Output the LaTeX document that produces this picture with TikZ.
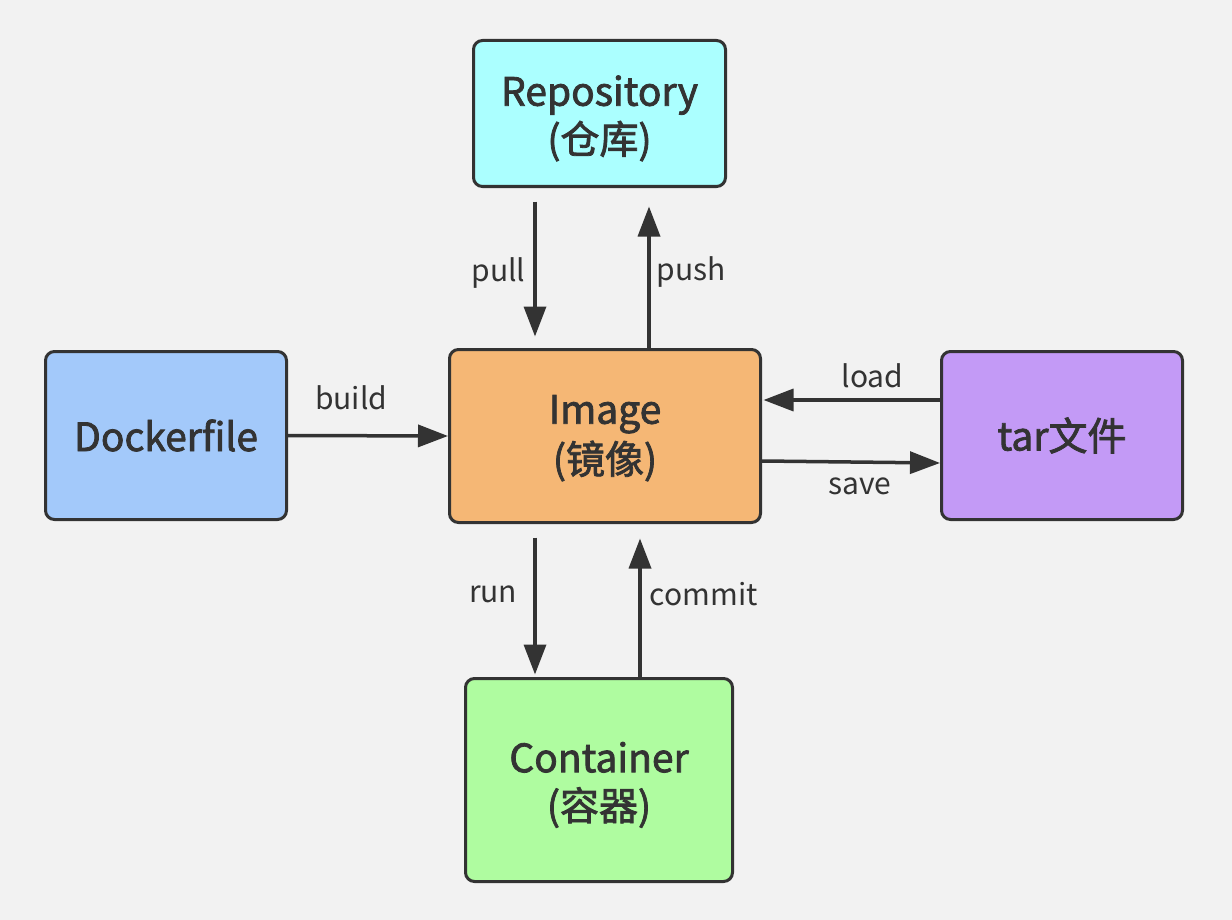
\documentclass[tikz,border=0pt]{standalone}
\usepackage{fontspec}
\setmainfont{Noto Sans CJK SC}
\newfontfamily\boxfont{Noto Sans CJK SC}[FakeBold=2]
\usetikzlibrary{arrows.meta,calc}
\definecolor{INK}{HTML}{333333}
\definecolor{PAPER}{HTML}{F2F2F2}
\definecolor{REPOFILL}{HTML}{ABFFFF}
\definecolor{DOCKFILL}{HTML}{A3C9FA}
\definecolor{IMGFILL}{HTML}{F5B775}
\definecolor{TARFILL}{HTML}{C39AF6}
\definecolor{CONTFILL}{HTML}{AFFCA0}
\tikzset{
BOX/.style={draw=INK,line width=1.5pt,rounded corners=4.5pt,fill=#1,text=INK,align=center,inner sep=0pt,font=\boxfont\fontsize{19.5}{24}\selectfont},
BOX/.default = white,
FLOW/.style={draw=INK,line width=1.75pt,-{Triangle[length=15pt,width=11pt]}},
LABEL/.style={text=INK,inner sep=0pt,font=\fontsize{15}{18}\selectfont},
}
\begin{document}
\begin{tikzpicture}[x=0.5pt,y=-0.5pt]
	\path[fill=PAPER] (0,0) rectangle (1232,920);
	\node[BOX=REPOFILL,minimum width=126pt,minimum height=73pt] (repo) at (599.5,113.5) {\rule{0pt}{20pt}Repository\\(仓库)};
	\node[BOX=DOCKFILL,minimum width=120.5pt,minimum height=84pt] (docker) at (166,435.5) {Dockerfile};
	\node[BOX=IMGFILL,minimum width=155.5pt,minimum height=86.5pt] (img) at (605,436) {\rule{0pt}{16.5pt}Image\\[1pt](镜像)};
	\node[BOX=TARFILL,minimum width=120.5pt,minimum height=84pt] (tar) at (1062,435.5) {tar文件};
	\node[BOX=CONTFILL,minimum width=133.5pt,minimum height=101.5pt] (cont) at (599,780) {\rule{0pt}{20pt}Container\\(容器)};
	\coordinate (pullend) at ($(img.north)+(-70,0)$);
	\coordinate (pushstart) at ($(img.north)+(44,0)$);
	\coordinate (loadstart) at ($(tar.west)+(0,-35.5)$);
	\coordinate (savestart) at ($(img.east)+(0,25)$);
	\coordinate (saveend) at ($(tar.west)+(0,27.5)$);
	\coordinate (runstart) at ($(img.south)+(-70,0)$);
	\coordinate (commitstart) at ($(cont.north)+(41,0)$);
	\path[FLOW,shorten <=6.75pt,shorten >=5.75pt] (pullend |- repo.south) -- (pullend) node[LABEL,pos=0.53,left=4pt] {pull};
	\path[FLOW,shorten >=9.25pt] (pushstart) -- (pushstart |- repo.south) node[LABEL,pos=0.475,right=3pt] {push};
	\path[FLOW] (docker.east) -- (img.west) node[LABEL,pos=0.395,above=12pt] {build};
	\path[FLOW,shorten >=0.75pt] (loadstart) -- (loadstart -| img.east) node[LABEL,pos=0.38,above=5pt] {load};
	\path[FLOW] (savestart) -- (saveend) node[LABEL,pos=0.55,below=7pt] {save};
	\path[FLOW,shorten <=6.75pt,shorten >=1.25pt] (runstart) -- (runstart |- cont.north) node[LABEL,pos=0.46,left=8pt] {run};
	\path[FLOW,shorten >=7.25pt] (commitstart) -- (commitstart |- img.south) node[LABEL,pos=0.54,right=4pt] {commit};
\end{tikzpicture}
\end{document}
